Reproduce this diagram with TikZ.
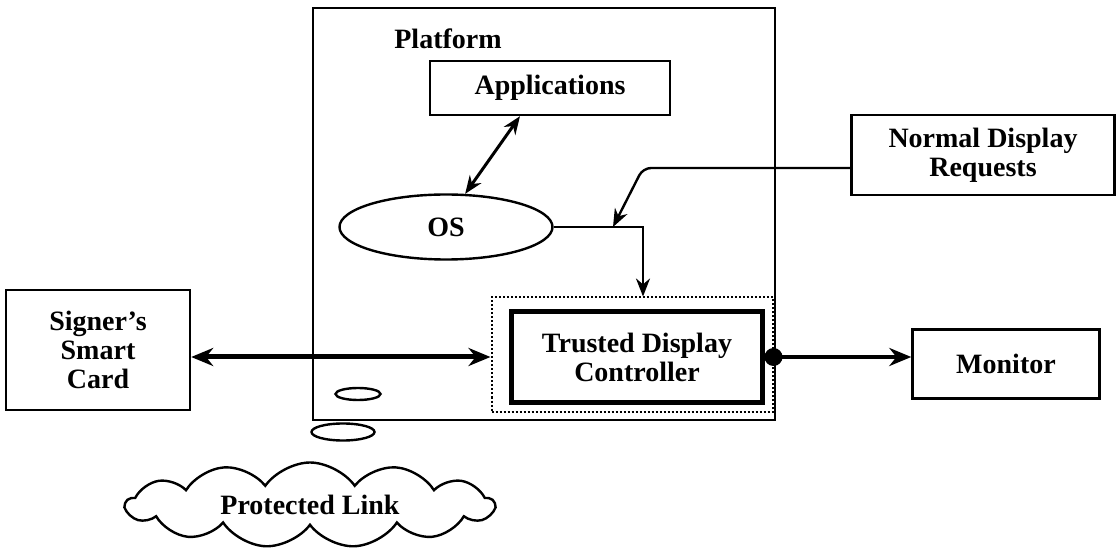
\documentclass[tikz,border=0pt]{standalone}
\usepackage{fontspec}
\setmainfont{Liberation Serif}
\usetikzlibrary{shapes.geometric,shapes.symbols,arrows.meta}

\begin{document}
\begin{tikzpicture}[x=0.5pt,y=-0.5pt,
		font=\fontsize{14}{14.5}\selectfont\bfseries,
		box/.style={draw,line width=1.2pt,align=center,inner sep=0pt},
		smalltip/.tip={Stealth[length=9pt,width=7pt]},
		bigtip/.tip={Stealth[length=11pt,width=9pt]},
		tip/.style={-smalltip,line width=1.2pt}]
	\useasboundingbox (0,0) rectangle (1120,550);
	
	\node[box,minimum width=231pt,minimum height=206pt] (plat) at (544,214) {};
	\node (ptitle) at (448,39) {Platform};
	\node[box,minimum width=120pt,minimum height=27pt] (apps) at (550,88) {Applications};
	\node[box,ellipse,minimum width=106.5pt,minimum height=32.5pt] (os) at (446,227) {OS};
	\node[box,minimum width=131.5pt,minimum height=40pt] (ndr) at (983,155) {Normal Display\\Requests};
	
	\node[box,line width=1pt,dash pattern=on 1pt off 1pt,minimum width=140.5pt,minimum height=57.5pt] (tdo) at (632,355) {};
	\node[box,line width=2.5pt,minimum width=125.5pt,minimum height=45.5pt] (tdc) at (637,357) {Trusted Display\\Controller};
	
	\node[box,minimum width=92pt,minimum height=60pt] (card) at (98,350) {Signer's\\Smart\\Card};
	\node[box,minimum width=93.5pt,minimum height=34.5pt] (mon) at (1006,364) {Monitor};
	
	\node[box,ellipse,minimum width=22.5pt,minimum height=6pt] (slot) at (358,394) {};
	\node[box,ellipse,minimum width=31.5pt,minimum height=8.5pt] (foot) at (343,432) {};
	\node[box,cloud,cloud puffs=13,cloud puff arc=110,cloud ignores aspect,minimum width=184pt,minimum height=42.5pt] (link) at (310,505) {Protected Link};
	
	\coordinate (bend) at (643,168);
	\coordinate (merge) at (613,227);
	\coordinate (dot) at (tdo.east |- tdc.center);
	
	\draw[smalltip-smalltip,line width=1.5pt] ([xshift=-15pt]apps.south) -- (os.60);
	\draw[tip,rounded corners=4pt] (ndr.west |- bend) -- (bend) -- (merge);
	\draw[tip] (os.east) -| ([xshift=5.5pt]tdo.north);
	\draw[bigtip-bigtip,line width=2.5pt] (card.east |- tdc.center) -- (tdo.west |- tdc.center);
	\fill (dot) circle (4.5pt);
	\draw[-bigtip,line width=2pt] (dot) -- (mon.west |- dot);
\end{tikzpicture}
\end{document}
